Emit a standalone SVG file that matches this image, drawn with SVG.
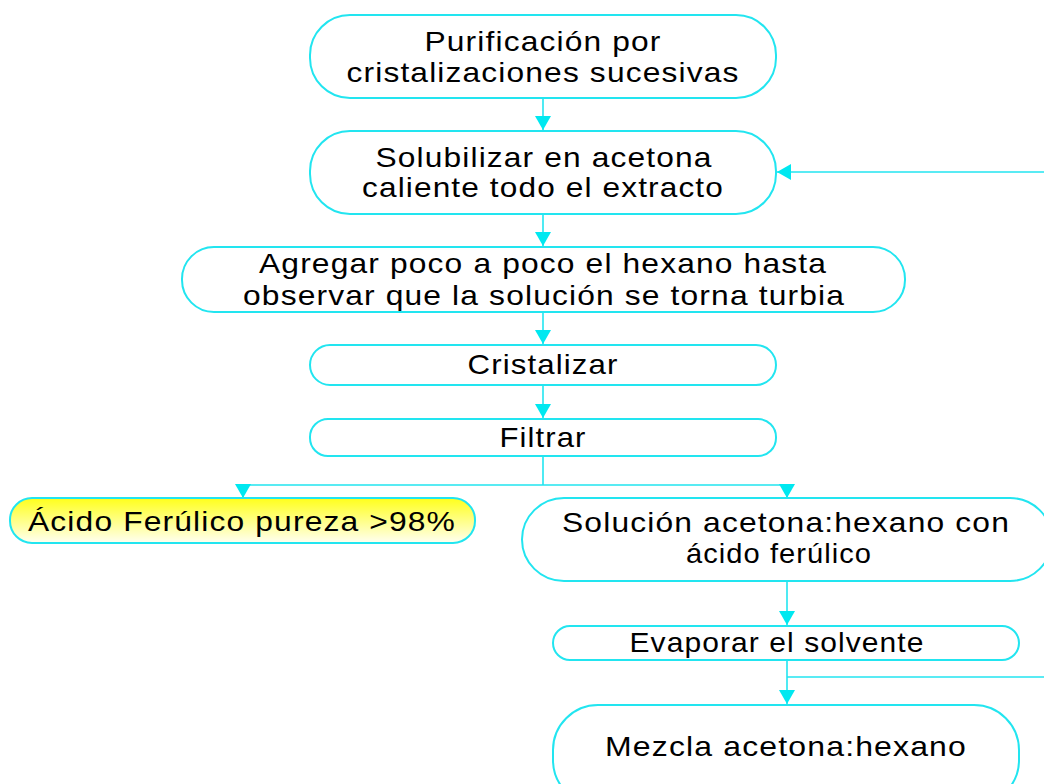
<svg xmlns="http://www.w3.org/2000/svg" width="1044" height="784" viewBox="0 0 1044 784">
<style>
.n{fill:#fff;stroke:#22E5F0;stroke-width:2}
.t{font-family:"Liberation Sans",Arial,sans-serif;font-size:28px;fill:#000;text-anchor:middle;letter-spacing:1px}
.c{fill:none;stroke:#22E5F0;stroke-width:1.6}
</style>
<defs>
<marker id="ah" viewBox="0 0 14 16" refX="14" refY="8" markerWidth="14" markerHeight="16" markerUnits="userSpaceOnUse" orient="auto">
<path d="M0,0 L14,8 L0,16 z" fill="#00E8F0"/>
</marker>
<linearGradient id="yg" x1="0" y1="0" x2="0" y2="1">
<stop offset="0" stop-color="#FFFF1A"/>
<stop offset="1" stop-color="#FFFFF2"/>
</linearGradient>
</defs>
<g id="connectors">
<path class="c" d="M543,98 V130" marker-end="url(#ah)"/>
<path class="c" d="M543,214 V246" marker-end="url(#ah)"/>
<path class="c" d="M543,312 V344" marker-end="url(#ah)"/>
<path class="c" d="M543,385 V418" marker-end="url(#ah)"/>
<path class="c" d="M543,456 V485 M243,485 H787"/>
<path class="c" d="M243,485 V498" marker-end="url(#ah)"/>
<path class="c" d="M787,485 V498" marker-end="url(#ah)"/>
<path class="c" d="M787,581 V625" marker-end="url(#ah)"/>
<path class="c" d="M787,660 V704" marker-end="url(#ah)"/>
<path class="c" d="M787,677 H1044"/>
<path class="c" d="M1044,172 H777" marker-end="url(#ah)"/>
</g>
<g id="n1">
<rect class="n" x="310" y="15" width="466" height="83" rx="40" ry="40"/>
<text class="t" x="543" y="51" textLength="237" lengthAdjust="spacingAndGlyphs">Purificación por</text>
<text class="t" x="543" y="82" textLength="393" lengthAdjust="spacingAndGlyphs">cristalizaciones sucesivas</text>
</g>
<g id="n2">
<rect class="n" x="310" y="131" width="466" height="83" rx="40" ry="40"/>
<text class="t" x="544" y="167" textLength="337" lengthAdjust="spacingAndGlyphs">Solubilizar en acetona</text>
<text class="t" x="543" y="197" textLength="362" lengthAdjust="spacingAndGlyphs">caliente todo el extracto</text>
</g>
<g id="n3">
<rect class="n" x="182" y="247" width="723" height="65" rx="32" ry="32"/>
<text class="t" x="543" y="273" textLength="568" lengthAdjust="spacingAndGlyphs">Agregar poco a poco el hexano hasta</text>
<text class="t" x="544" y="305" textLength="602" lengthAdjust="spacingAndGlyphs">observar que la solución se torna turbia</text>
</g>
<g id="n4">
<rect class="n" x="310" y="345" width="466" height="40" rx="20" ry="20"/>
<text class="t" x="543" y="374" textLength="151" lengthAdjust="spacingAndGlyphs">Cristalizar</text>
</g>
<g id="n5">
<rect class="n" x="310" y="419" width="466" height="37" rx="18" ry="18"/>
<text class="t" x="543" y="447" textLength="87" lengthAdjust="spacingAndGlyphs">Filtrar</text>
</g>
<g id="n6">
<rect x="10" y="498" width="465" height="45" rx="22" ry="22" fill="url(#yg)" stroke="#22E5F0" stroke-width="2"/>
<text class="t" x="242" y="531" textLength="428" lengthAdjust="spacingAndGlyphs">Ácido Ferúlico pureza &gt;98%</text>
</g>
<g id="n7">
<rect class="n" x="522" y="498" width="530" height="83" rx="42" ry="42"/>
<text class="t" x="786" y="532" textLength="448" lengthAdjust="spacingAndGlyphs">Solución acetona:hexano con</text>
<text class="t" x="779" y="563" textLength="186" lengthAdjust="spacingAndGlyphs">ácido ferúlico</text>
</g>
<g id="n8">
<rect class="n" x="553" y="626" width="466" height="34" rx="17" ry="17"/>
<text class="t" x="777" y="652" textLength="295" lengthAdjust="spacingAndGlyphs">Evaporar el solvente</text>
</g>
<g id="n9">
<rect class="n" x="553" y="705" width="466" height="100" rx="45" ry="45"/>
<text class="t" x="786" y="756" textLength="362" lengthAdjust="spacingAndGlyphs">Mezcla acetona:hexano</text>
</g>
</svg>
